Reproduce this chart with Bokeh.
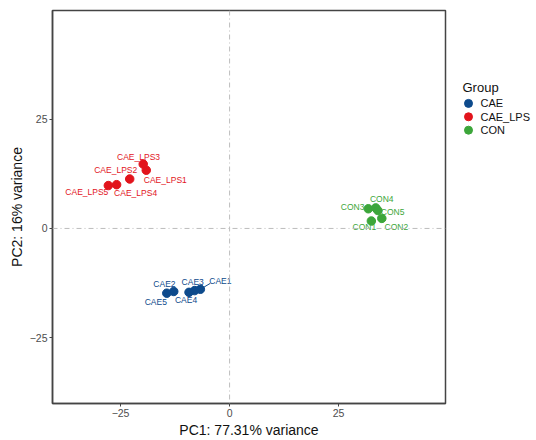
from bokeh.plotting import figure
from bokeh.layouts import row
from bokeh.models import Span, FixedTicker, Range1d
from bokeh.core.properties import value
from bokeh.embed import file_html
from bokeh.resources import INLINE

# ---- data ----
groups = ["CAE", "CAE_LPS", "CON"]
cae_names = ["CAE1", "CAE2", "CAE3", "CAE4", "CAE5"]
cae_x = [-6.7, -12.8, -8.0, -9.3, -14.4]
cae_y = [-13.9, -14.4, -14.2, -14.6, -14.8]
lps_names = ["CAE_LPS1", "CAE_LPS2", "CAE_LPS3", "CAE_LPS4", "CAE_LPS5"]
lps_x = [-19.1, -22.9, -19.8, -25.9, -27.8]
lps_y = [13.3, 11.3, 14.7, 10.0, 9.8]
con_names = ["CON1", "CON2", "CON3", "CON4", "CON5"]
con_x = [32.5, 34.9, 31.8, 33.5, 34.0]
con_y = [1.7, 2.3, 4.5, 4.7, 4.1]
x_ticks = [-25, 0, 25]
y_ticks = [-25, 0, 25]
x_title = "PC1: 77.31% variance"
y_title = "PC2: 16% variance"
legend_title = "Group"

# label offsets in screen pixels (dx right, dy down), repel-style placement
cae_off = [(20, -8.3), (-9.3, -7.3), (-2, -8.3), (-3, 7.4), (-11, 8.4)]
lps_off = [(19, 10), (-14, -9.3), (-4.7, -7), (19, 8), (-21.5, 6)]
con_off = [(-7, 6.3), (14.5, 9), (-15.7, -1.3), (6, -9.3), (14.7, 1.3)]

colors = {"CAE": "#0D4A8C", "CAE_LPS": "#E2141C", "CON": "#3CA63A"}
FONT = "Liberation Sans"

XR = (-40.6, 49.5)
YR = (-40.0, 49.8)
FW, FH = 393.0, 395.0
sx = FW / (XR[1] - XR[0])
sy = FH / (YR[1] - YR[0])

p = figure(width=447, height=440, output_backend="svg", toolbar_location=None,
           x_range=Range1d(*XR), y_range=Range1d(*YR),
           min_border_left=52, min_border_right=2, min_border_top=10,
           min_border_bottom=35, background_fill_color="white",
           border_fill_color="white")
p.grid.visible = False
p.outline_line_color = "#444444"
p.outline_line_width = 1.5

for ax, ticks, title in ((p.xaxis[0], x_ticks, x_title), (p.yaxis[0], y_ticks, y_title)):
    ax.ticker = FixedTicker(ticks=ticks)
    ax.major_label_overrides = {t: (("\u2212" + str(-t)) if t < 0 else str(t)) for t in ticks}
    ax.major_tick_out = 3
    ax.major_tick_in = 0
    ax.minor_tick_line_color = None
    ax.major_tick_line_color = "#444444"
    ax.axis_line_color = "#444444"
    ax.axis_line_width = 1.5
    ax.major_label_text_font = FONT
    ax.major_label_text_font_size = "10.5px"
    ax.major_label_text_color = "#4D4D4D"
    ax.major_label_standoff = 2
    ax.axis_label = title
    ax.axis_label_text_font = FONT
    ax.axis_label_text_font_size = "14px"
    ax.axis_label_text_font_style = "normal"
    ax.axis_label_text_color = "#111111"
    ax.axis_label_standoff = 2

p.add_layout(Span(location=0, dimension="height", line_color="#BDBDBD",
                  line_width=1, line_dash="5 3 1 3"))
p.add_layout(Span(location=0, dimension="width", line_color="#BDBDBD",
                  line_width=1, line_dash="5 3 1 3"))

for g, xs, ys, names, offs in (("CAE", cae_x, cae_y, cae_names, cae_off),
                               ("CAE_LPS", lps_x, lps_y, lps_names, lps_off),
                               ("CON", con_x, con_y, con_names, con_off)):
    c = colors[g]
    lx = [x + dx / sx for x, (dx, dy) in zip(xs, offs)]
    ly = [y - dy / sy for y, (dx, dy) in zip(ys, offs)]
    if g == "CAE":
        # repel segment for CAE1 toward its label
        p.segment(x0=[xs[0]], y0=[ys[0]], x1=[xs[0] + 10 / sx], y1=[ys[0] + 6 / sy],
                  line_color=c, line_width=1)
    p.scatter(xs, ys, size=8.5, fill_color=c, line_color=c)
    p.text(x=lx, y=ly, text=names, text_font=value(FONT), text_font_size="8.5px",
           text_color=c, text_align="center", text_baseline="middle")

# ---- legend panel (pixel coordinate space, y downward) ----
LW = 89
lg = figure(width=LW, height=440, output_backend="svg", toolbar_location=None,
            x_range=Range1d(0, LW), y_range=Range1d(440, 0),
            min_border=0, x_axis_location=None, y_axis_location=None,
            background_fill_color="white", border_fill_color="white")
lg.grid.visible = False
lg.outline_line_color = None
key_y = [104 + 15 * i for i in range(len(groups))]
lg.text(x=[15], y=[86], text=[legend_title], text_font=value(FONT),
        text_font_size="13px", text_color="#111111", text_baseline="middle")
lg.scatter([21] * len(groups), key_y, size=8, fill_color=[colors[g] for g in groups],
           line_color=[colors[g] for g in groups])
lg.text(x=[33] * len(groups), y=key_y, text=groups, text_font=value(FONT),
        text_font_size="11px", text_color="#111111", text_baseline="middle")

layout = row(p, lg, spacing=0)
open("out.html", "w").write(file_html(layout, INLINE))
